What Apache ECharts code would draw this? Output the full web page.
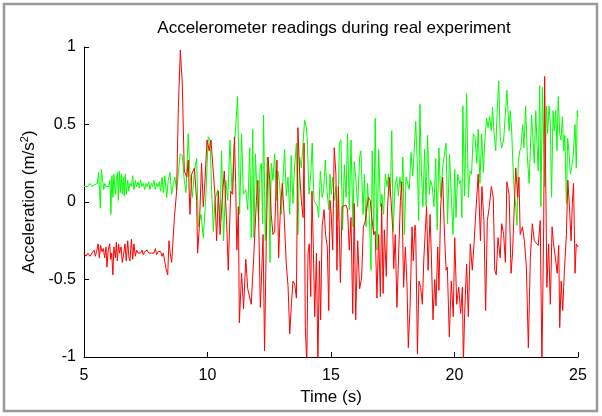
<!DOCTYPE html>
<html>
<head>
<meta charset="utf-8">
<script src="https://cdn.jsdelivr.net/npm/echarts@6/dist/echarts.min.js"></script>
<style>
  html, body { margin: 0; padding: 0; background: #fff; }
  #chart { width: 602px; height: 416px; }
</style>
</head>
<body>
<div id="chart"></div>
<script>
// green trace
var greenTime = [5.00,5.08,5.16,5.24,5.32,5.41,5.49,5.54,5.59,5.63,5.66,5.70,5.76,5.80,5.84,5.89,5.94,6.00,6.05,6.09,
  6.13,6.17,6.21,6.27,6.31,6.35,6.39,6.43,6.47,6.51,6.55,6.59,6.63,6.67,6.71,6.77,6.81,6.86,6.92,6.97,
  7.02,7.08,7.13,7.19,7.24,7.29,7.35,7.40,7.46,7.51,7.56,7.62,7.67,7.73,7.78,7.83,7.89,7.94,8.00,8.05,
  8.10,8.16,8.21,8.27,8.35,8.41,8.48,8.55,8.62,8.68,8.75,8.82,8.89,8.98,9.06,9.13,9.22,9.29,9.39,9.47,
  9.56,9.63,9.74,9.83,9.93,10.03,10.10,10.17,10.24,10.30,10.41,10.51,10.57,10.65,10.74,10.82,10.91,10.99,11.06,11.14,
  11.22,11.30,11.38,11.45,11.55,11.63,11.71,11.77,11.83,11.88,11.94,12.00,12.07,12.13,12.18,12.23,12.27,12.34,12.42,12.48,
  12.53,12.58,12.65,12.72,12.79,12.85,12.92,12.99,13.06,13.12,13.19,13.26,13.33,13.39,13.46,13.53,13.60,13.66,13.73,13.80,
  13.87,13.93,14.00,14.04,14.11,14.18,14.24,14.31,14.38,14.45,14.50,14.57,14.64,14.70,14.77,14.84,14.91,14.96,15.01,15.07,
  15.13,15.20,15.27,15.34,15.40,15.47,15.54,15.61,15.67,15.74,15.81,15.89,15.94,16.01,16.08,16.16,16.21,16.30,16.35,16.42,
  16.48,16.55,16.62,16.67,16.73,16.79,16.86,16.93,17.00,17.06,17.13,17.20,17.27,17.33,17.40,17.46,17.52,17.59,17.66,17.73,
  17.79,17.86,17.91,17.97,18.04,18.10,18.17,18.24,18.31,18.37,18.43,18.50,18.55,18.60,18.66,18.72,18.79,18.85,18.91,18.98,
  19.03,19.10,19.17,19.24,19.30,19.37,19.44,19.52,19.60,19.66,19.72,19.80,19.87,19.94,20.01,20.06,20.13,20.20,20.25,20.30,
  20.34,20.41,20.49,20.56,20.63,20.69,20.76,20.83,20.90,20.96,21.03,21.10,21.17,21.22,21.30,21.36,21.42,21.49,21.54,21.60,
  21.67,21.73,21.79,21.85,21.91,21.99,22.07,22.12,22.21,22.26,22.31,22.37,22.42,22.48,22.53,22.58,22.64,22.69,22.76,22.81,
  22.88,22.95,23.02,23.07,23.12,23.18,23.23,23.29,23.34,23.39,23.45,23.50,23.56,23.61,23.66,23.72,23.77,23.83,23.88,23.93,
  23.99,24.04,24.10,24.15,24.20,24.26,24.31,24.37,24.42,24.47,24.53,24.58,24.63,24.69,24.74,24.80,24.88,24.93,24.97,25.00];
var greenAcc = [0.10,0.11,0.10,0.12,0.10,0.11,0.10,0.12,0.19,0.07,-0.04,0.21,0.21,0.08,0.12,0.10,0.11,0.10,0.14,-0.08,
  0.17,0.03,0.18,0.05,0.14,0.19,0.01,0.20,0.06,0.18,0.05,0.16,0.04,0.18,0.05,0.14,0.07,0.12,0.10,0.17,
  0.08,0.14,0.10,0.13,0.09,0.14,0.10,0.12,0.08,0.12,0.10,0.13,0.08,0.12,0.10,0.14,0.08,0.12,0.10,0.13,
  0.07,0.16,0.06,0.17,0.03,0.14,0.19,0.05,0.12,0.16,0.07,0.06,0.31,0.30,0.14,0.06,0.44,0.18,0.03,0.20,
  0.28,-0.16,-0.08,-0.23,0.03,0.42,0.40,0.07,-0.19,0.01,0.08,-0.12,0.33,-0.25,0.14,0.01,0.40,0.07,0.31,0.48,
  0.68,-0.08,0.44,0.05,0.08,-0.05,0.35,-0.23,0.47,-0.23,0.31,0.07,-0.12,0.22,0.25,-0.14,0.56,-0.25,0.29,0.14,
  -0.39,0.25,0.14,0.31,0.01,0.20,0.12,-0.08,0.16,0.34,0.04,0.16,-0.08,0.30,-0.01,0.24,0.38,-0.21,0.29,0.22,
  0.38,0.53,0.48,0.40,0.05,0.18,0.38,0.01,-0.01,-0.03,-0.10,0.20,0.03,0.07,0.27,0.07,-0.05,0.18,0.05,0.16,
  0.01,0.10,-0.12,0.38,0.40,-0.18,0.24,0.03,0.44,-0.05,0.40,-0.16,0.26,0.14,-0.03,0.29,0.33,-0.08,0.18,-0.16,
  0.12,-0.08,-0.44,0.33,-0.21,0.54,-0.31,0.34,-0.03,0.05,-0.08,0.18,0.10,0.18,0.03,0.46,-0.19,0.10,0.16,0.04,
  0.16,0.07,0.29,-0.21,0.16,0.12,0.08,0.32,0.17,0.33,0.52,0.22,-0.12,0.63,0.20,-0.03,0.34,-0.03,0.43,0.05,
  0.14,0.10,-0.03,0.28,-0.18,0.35,0.03,0.22,0.22,0.38,-0.14,0.31,0.03,-0.21,0.21,-0.10,0.18,0.12,0.14,-0.10,
  0.62,0.04,0.70,0.03,0.20,0.18,0.44,0.42,0.25,0.47,0.12,0.44,0.19,0.38,0.54,0.48,0.55,0.46,0.61,0.45,
  0.33,0.59,0.78,0.42,0.35,0.40,0.40,0.72,0.46,0.59,0.48,0.22,0.07,-0.03,-0.15,0.25,0.33,0.35,0.50,0.35,
  0.62,0.29,0.12,0.33,0.56,0.40,0.25,0.59,0.38,0.20,0.75,-0.03,0.74,0.40,0.10,0.62,0.44,0.62,0.50,0.03,
  0.59,0.46,0.59,0.33,0.68,0.44,0.40,0.55,0.33,0.43,-0.01,0.41,0.33,0.18,0.22,0.29,0.50,0.22,0.59,0.55];

// red trace
var redTime = [5.00,5.08,5.16,5.24,5.32,5.41,5.46,5.51,5.57,5.62,5.67,5.73,5.78,5.84,5.89,5.93,5.98,6.04,6.08,6.12,
  6.17,6.21,6.27,6.31,6.35,6.40,6.44,6.50,6.55,6.61,6.66,6.71,6.77,6.82,6.86,6.92,6.97,7.02,7.08,7.13,
  7.19,7.24,7.29,7.35,7.40,7.46,7.51,7.56,7.62,7.67,7.73,7.78,7.83,7.89,7.94,8.00,8.05,8.10,8.16,8.21,
  8.27,8.32,8.39,8.44,8.49,8.55,8.66,8.75,8.82,8.90,8.98,9.06,9.16,9.22,9.29,9.36,9.47,9.56,9.60,9.67,
  9.76,9.83,9.90,9.98,10.07,10.14,10.24,10.30,10.37,10.44,10.51,10.60,10.68,10.78,10.84,10.94,11.02,11.09,11.14,11.19,
  11.25,11.29,11.38,11.46,11.55,11.63,11.71,11.77,11.87,11.98,12.04,12.14,12.25,12.31,12.38,12.45,12.52,12.58,12.65,12.72,
  12.81,12.88,12.95,13.03,13.10,13.19,13.26,13.33,13.39,13.46,13.53,13.60,13.66,13.73,13.80,13.87,13.91,13.96,14.02,14.07,
  14.12,14.18,14.23,14.29,14.34,14.41,14.47,14.53,14.58,14.64,14.72,14.78,14.85,14.91,14.96,15.01,15.07,15.13,15.20,15.24,
  15.30,15.38,15.45,15.51,15.61,15.67,15.74,15.81,15.88,15.94,16.00,16.08,16.16,16.24,16.31,16.38,16.44,16.51,16.59,16.65,
  16.73,16.79,16.86,16.93,17.00,17.05,17.11,17.16,17.24,17.29,17.36,17.43,17.50,17.54,17.60,17.67,17.74,17.81,17.86,17.94,
  18.01,18.08,18.13,18.20,18.28,18.33,18.40,18.43,18.50,18.56,18.63,18.70,18.76,18.87,18.93,19.01,19.06,19.13,19.20,19.25,
  19.32,19.37,19.44,19.52,19.60,19.66,19.71,19.79,19.87,19.95,20.01,20.09,20.17,20.25,20.32,20.36,20.41,20.49,20.56,20.64,
  20.72,20.79,20.87,20.96,21.05,21.11,21.19,21.26,21.33,21.41,21.49,21.57,21.63,21.69,21.76,21.85,21.91,21.99,22.06,22.12,
  22.21,22.29,22.35,22.42,22.48,22.56,22.61,22.66,22.75,22.83,22.91,22.99,23.07,23.15,23.23,23.31,23.39,23.47,23.54,23.61,
  23.65,23.70,23.74,23.81,23.88,23.95,24.01,24.10,24.16,24.22,24.26,24.32,24.38,24.45,24.53,24.59,24.66,24.72,24.77,24.82,
  24.88,24.93,25.00];
var redAcc = [-0.33,-0.35,-0.33,-0.35,-0.33,-0.31,-0.35,-0.32,-0.27,-0.36,-0.28,-0.32,-0.30,-0.36,-0.29,-0.42,-0.31,-0.27,-0.37,-0.33,
  -0.47,-0.29,-0.36,-0.26,-0.38,-0.27,-0.33,-0.29,-0.39,-0.33,-0.27,-0.38,-0.25,-0.36,-0.38,-0.24,-0.37,-0.27,-0.35,-0.31,
  -0.33,-0.32,-0.33,-0.31,-0.34,-0.32,-0.33,-0.31,-0.33,-0.32,-0.33,-0.32,-0.33,-0.30,-0.34,-0.32,-0.33,-0.32,-0.35,-0.33,
  -0.33,-0.43,-0.47,-0.25,-0.33,-0.39,-0.10,0.07,0.61,0.98,0.76,0.20,0.16,0.27,-0.08,0.18,0.22,0.01,-0.33,-0.16,
  0.25,-0.03,0.14,0.40,0.33,0.40,0.18,0.05,-0.25,0.07,-0.21,0.03,0.20,-0.16,-0.44,0.07,0.05,0.42,0.12,-0.31,
  -0.03,-0.78,-0.46,-0.69,-0.37,-0.56,-0.55,-0.66,-0.36,0.01,0.14,-0.68,-0.21,-0.96,-0.25,0.29,0.14,-0.08,-0.21,-0.19,
  0.27,-0.36,-0.05,0.12,-0.08,-0.40,-0.54,-0.85,-0.68,-0.51,-0.53,-0.62,0.48,0.18,0.01,-0.10,0.38,-0.81,-1.05,-0.33,
  -0.27,-0.61,0.07,-0.33,-0.74,-0.33,-1.05,-0.38,-0.76,-0.16,-0.05,-0.21,-0.29,-0.70,0.01,-0.08,-0.31,0.35,0.18,-0.44,
  0.10,-0.52,-0.03,-0.04,-0.02,-0.05,-0.31,-0.10,-0.72,-0.01,-0.76,-0.25,-0.56,-0.49,-0.16,-0.13,-0.12,0.03,0.01,-0.10,
  -0.21,-0.19,-0.62,-0.21,-0.61,-0.01,-0.59,-0.18,-0.48,-0.03,0.16,0.01,-0.18,-0.43,-0.21,-0.68,-0.33,0.01,0.13,-0.55,
  -0.29,-0.55,-0.94,-0.68,-0.16,-0.38,-0.15,-0.19,-0.98,-0.51,-0.55,-0.66,-0.36,-0.03,-0.44,-0.08,-0.33,-0.76,-0.50,-0.67,
  -0.29,-0.57,-0.03,0.16,-0.23,-0.44,-0.42,-0.87,-0.51,-0.74,-0.23,-0.66,-0.55,-0.72,-0.55,-1.05,-0.72,-0.40,-0.74,-0.27,
  -0.44,-0.27,-0.05,0.18,-0.25,0.10,-0.12,-0.70,-0.12,-0.03,0.10,0.03,-0.44,-0.47,-0.23,-0.36,-0.14,-0.21,-0.39,0.13,
  0.05,-0.46,-0.33,-0.33,0.22,0.03,0.16,-0.21,-0.16,-0.25,-0.42,-0.94,-0.36,-0.14,-0.25,-0.24,-0.28,-0.12,-1.05,-0.16,
  0.81,0.05,-0.55,-0.27,-0.66,-0.16,-0.27,-0.38,-0.46,-0.28,-0.81,-0.51,-0.70,-0.44,-0.21,0.14,-0.05,-0.25,-0.01,0.12,
  -0.46,-0.27,-0.29];

var xTicks = [5, 10, 15, 20, 25];
var yTicks = [-1, -0.5, 0, 0.5, 1];

function pairs(t, v) {
  return t.map(function (x, i) { return [x, v[i]]; });
}

var myChart = echarts.init(document.getElementById('chart'), null, { renderer: 'canvas' });
var font = '"Liberation Sans", Arial, Helvetica, sans-serif';

var option = {
  animation: false,
  backgroundColor: '#ffffff',
  textStyle: { fontFamily: font },
  title: {
    text: 'Accelerometer readings during real experiment',
    left: 329,
    top: 15,
    textAlign: 'center',
    textStyle: { fontSize: 17, fontWeight: 'normal', color: '#000', fontFamily: font }
  },
  graphic: [{
    type: 'rect',
    shape: { x: 4, y: 4, width: 593, height: 407 },
    style: { fill: 'none', stroke: '#999999', lineWidth: 2.5 },
    silent: true
  }],
  grid: { left: 84, right: 24, top: 47, bottom: 59 },
  xAxis: {
    type: 'value',
    min: xTicks[0],
    max: xTicks[xTicks.length - 1],
    interval: 5,
    name: 'Time (s)',
    nameLocation: 'middle',
    nameGap: 30,
    nameTextStyle: { fontSize: 17, color: '#000', fontFamily: font },
    axisLine: { show: true, onZero: false, lineStyle: { color: '#000', width: 1 } },
    axisTick: { show: true, inside: true, length: 5, lineStyle: { color: '#000' } },
    axisLabel: { fontSize: 16, color: '#000', margin: 11, fontFamily: font },
    splitLine: { show: false }
  },
  yAxis: {
    type: 'value',
    min: yTicks[0],
    max: yTicks[yTicks.length - 1],
    interval: 0.5,
    name: 'Acceleration (m/s{sup|2})',
    nameLocation: 'middle',
    nameGap: 42,
    nameTextStyle: {
      fontSize: 17, color: '#000', fontFamily: font,
      rich: { sup: { fontSize: 11, verticalAlign: 'bottom', padding: [0, 0, 8, 0], color: '#000', fontFamily: font } }
    },
    axisLine: { show: true, lineStyle: { color: '#000', width: 1 } },
    axisTick: { show: true, inside: true, length: 5, lineStyle: { color: '#000' } },
    axisLabel: { fontSize: 16, color: '#000', margin: 8, fontFamily: font },
    splitLine: { show: false }
  },
  series: [
    {
      name: 'green',
      type: 'line',
      data: pairs(greenTime, greenAcc),
      showSymbol: false,
      symbol: 'none',
      clip: true,
      lineStyle: { color: '#00ff00', width: 1 },
      itemStyle: { color: '#00ff00' }
    },
    {
      name: 'red',
      type: 'line',
      data: pairs(redTime, redAcc),
      showSymbol: false,
      symbol: 'none',
      clip: true,
      lineStyle: { color: '#ff0000', width: 1 },
      itemStyle: { color: '#ff0000' }
    }
  ]
};

myChart.setOption(option);
</script>
</body>
</html>
